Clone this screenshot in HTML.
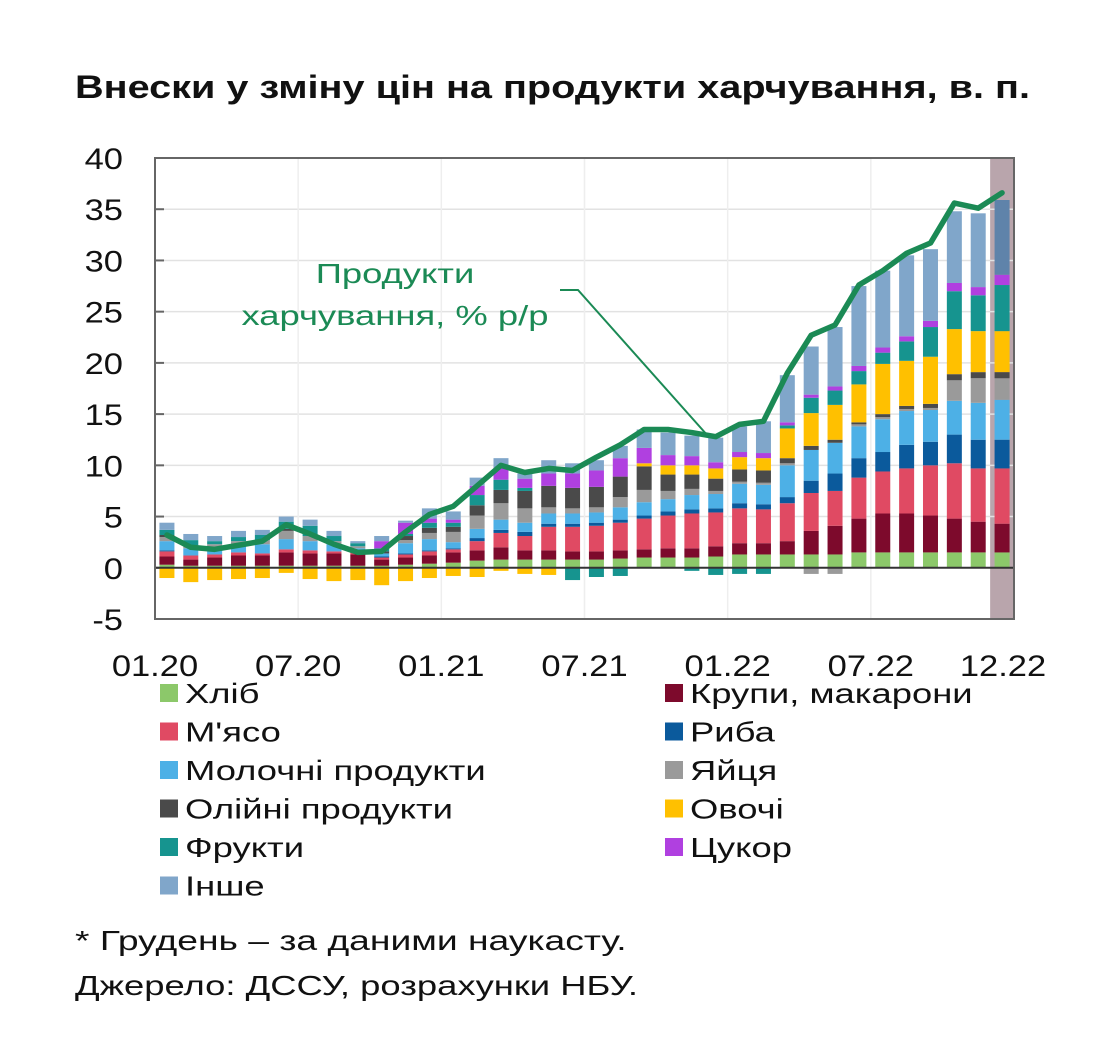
<!DOCTYPE html>
<html><head><meta charset="utf-8">
<style>
body{margin:0;background:#fff;width:1098px;height:1046px;overflow:hidden;font-family:"Liberation Sans",sans-serif}
svg{position:absolute;left:0;top:0}
text{font-family:"Liberation Sans","DejaVu Sans",sans-serif}
</style></head><body>
<svg id="chart" width="1098" height="1046"></svg>
<script>
const months=["01.20","02.20","03.20","04.20","05.20","06.20","07.20","08.20","09.20","10.20","11.20","12.20","01.21","02.21","03.21","04.21","05.21","06.21","07.21","08.21","09.21","10.21","11.21","12.21","01.22","02.22","03.22","04.22","05.22","06.22","07.22","08.22","09.22","10.22","11.22","12.22"];
const xTickLabels=["01.20","07.20","01.21","07.21","01.22","07.22","12.22"];
const xTickIndex=[0,6,12,18,24,30,35];
const yTicks=[-5,0,5,10,15,20,25,30,35,40];
const hlib=[0.3,0.2,0.2,0.2,0.2,0.2,0.2,0.2,0.2,0.2,0.3,0.4,0.5,0.7,0.8,0.8,0.8,0.8,0.8,0.9,1.0,1.0,1.0,1.1,1.3,1.3,1.3,1.3,1.3,1.5,1.5,1.5,1.5,1.5,1.5,1.5];
const krupy=[0.8,0.6,0.8,1.0,1.0,1.3,1.2,1.2,1.1,0.6,0.7,0.8,1.0,1.0,1.2,0.9,0.9,0.8,0.8,0.8,0.8,0.9,0.9,1.0,1.1,1.1,1.3,2.3,2.8,3.3,3.8,3.8,3.6,3.3,3.0,2.8];
const myaso=[0.5,0.4,0.3,0.3,0.2,0.3,0.3,0.2,0.2,0.2,0.3,0.4,0.3,0.9,1.4,1.4,2.3,2.4,2.5,2.7,3.0,3.2,3.4,3.3,3.4,3.3,3.7,3.7,3.4,4.0,4.1,4.4,4.9,5.4,5.2,5.4];
const ryba=[0.1,0,0,0,0,0,0,0,0,0.1,0.1,0.1,0.1,0.3,0.3,0.4,0.3,0.3,0.3,0.3,0.3,0.4,0.4,0.4,0.5,0.5,0.6,1.2,1.7,1.9,1.9,2.3,2.3,2.8,2.8,2.8];
const molochni=[0.9,0.7,0.7,0.8,0.9,1.0,0.9,0.7,0.4,0.3,1.0,1.1,0.6,0.9,1.0,0.9,1.0,1.0,1.0,1.2,1.3,1.2,1.4,1.4,1.9,1.9,3.1,3.0,3.0,3.1,3.2,3.3,3.1,3.3,3.6,3.9];
const yaytsa=[0.4,0.3,0.3,0.3,0.4,0.8,0.5,0.3,0.2,0,0.3,0.6,1.0,1.3,1.6,1.4,0.6,0.5,0.5,1.0,1.2,0.8,0.6,0.3,0.2,0.2,0.2,-0.6,-0.6,0.2,0.2,0.2,0.2,2.0,2.4,2.1];
const oliyni=[0.2,0,0,0,0,0.2,0,0,0,0.2,0.4,0.5,0.5,1.0,1.3,1.7,2.1,2.0,2.0,2.0,2.3,1.6,1.4,1.2,1.2,1.2,0.5,0.4,0.3,0.2,0.3,0.3,0.4,0.6,0.6,0.6];
const ovochi=[-1.0,-1.4,-1.2,-1.1,-1.0,-0.5,-1.1,-1.3,-1.2,-1.7,-1.3,-1.0,-0.8,-0.9,-0.3,-0.6,-0.7,0,0,0,0.3,0.9,0.9,1.0,1.2,1.2,2.9,3.2,3.4,3.7,4.9,4.4,4.6,4.4,4.0,4.0];
const frukty=[0.5,0.5,0.3,0.4,0.5,0.7,1.0,0.5,0.3,0.3,0.2,0.5,0.4,1.0,1.0,0.3,0,-1.2,-0.9,-0.8,0,0,-0.3,-0.7,-0.6,-0.6,0.3,1.5,1.4,1.3,1.1,1.9,2.9,3.7,3.5,4.5];
const tsukor=[0,0,0,0,0,0,0,0,0,0.7,1.1,0.4,0.3,0.9,1.2,0.9,1.2,1.4,1.6,1.8,1.5,1.0,0.9,0.6,0.5,0.5,0.3,0.3,0.4,0.5,0.5,0.5,0.6,0.8,0.8,1.0];
const inshe=[0.7,0.6,0.5,0.6,0.5,0.5,0.6,0.5,0.2,0.5,0.2,1.0,0.8,0.8,0.9,0.5,1.3,1.0,1.0,1.2,1.8,2.2,2.0,2.4,2.5,3.1,4.6,4.7,5.8,7.8,7.5,7.9,7.0,7.0,7.2,7.3];
const foodInflation=[3.2,2.0,1.8,2.2,2.6,4.2,3.3,2.3,1.5,1.6,3.5,5.2,6.0,8.0,10.0,9.3,9.7,9.5,10.8,12.0,13.5,13.5,13.2,12.8,14.0,14.3,19.0,22.7,23.7,27.6,29.0,30.7,31.7,35.6,35.1,36.6];

const series=[
 {name:"Хліб",key:"bread",data:hlib,color:"#8cc86a"},
 {name:"Крупи, макарони",key:"cereals-pasta",data:krupy,color:"#7d0a2c"},
 {name:"М'ясо",key:"meat",data:myaso,color:"#e04a63"},
 {name:"Риба",key:"fish",data:ryba,color:"#0b5a9c"},
 {name:"Молочні продукти",key:"dairy",data:molochni,color:"#4db0e6"},
 {name:"Яйця",key:"eggs",data:yaytsa,color:"#9a9a9a"},
 {name:"Олійні продукти",key:"oil-products",data:oliyni,color:"#4a4a4a"},
 {name:"Овочі",key:"vegetables",data:ovochi,color:"#ffc000"},
 {name:"Фрукти",key:"fruits",data:frukty,color:"#16948f"},
 {name:"Цукор",key:"sugar",data:tsukor,color:"#b040e0"},
 {name:"Інше",key:"other",data:inshe,color:"#80a6ca"}
];
const NS="http://www.w3.org/2000/svg";
const svg=document.getElementById('chart');
function mk(tag,attrs,parent){const e=document.createElementNS(NS,tag);for(const k in attrs)e.setAttribute(k,attrs[k]);(parent||svg).appendChild(e);return e;}
function stretch(el,x,s){el.setAttribute('transform','translate('+x+',0) scale('+s+',1) translate('+(-x)+',0)');}
const PL=155,PR=1014,PT=158,PB=619,YMIN=-5,YMAX=40;
const slot=(PR-PL)/months.length;
function y(v){return PB-(v-YMIN)/(YMAX-YMIN)*(PB-PT);}
function xc(i){return PL+slot*(i+0.5);}

// title
let t=mk('text',{x:75,y:98,'font-size':32,'font-weight':'bold',fill:'#111',textLength:955,lengthAdjust:'spacingAndGlyphs'});
t.textContent="Внески у зміну цін на продукти харчування, в. п.";



// shaded nowcast area
let sh=mk('rect',{x:PL+slot*35,y:PT,width:PR-(PL+slot*35),height:PB-PT,fill:'#b9a5ac'});



// grid
yTicks.forEach(v=>{
 if(v!==0&&v!==YMIN&&v!==YMAX){let g=mk('line',{x1:PL,x2:PR,y1:y(v),y2:y(v),stroke:'#e2e2e2','stroke-width':1.5});
 
 }
 let tk=mk('line',{x1:PL,x2:PL+9,y1:y(v),y2:y(v),stroke:'#666','stroke-width':2});
 
 
 let l=mk('text',{x:123,y:y(v)+11,'font-size':30,'text-anchor':'end',fill:'#111'});
 l.textContent=v;
 stretch(l,123,1.15);
 
 
});
xTickIndex.forEach((idx,k)=>{
 const xx=PL+slot*idx;
 if(idx>0&&idx<35){let g=mk('line',{x1:xx,x2:xx,y1:PT,y2:PB,stroke:'#eeeeee','stroke-width':1.5});
 
 }
 const lx=idx===35?1003:xx;
 let l=mk('text',{x:lx,y:676,'font-size':30,'text-anchor':'middle',fill:'#111'});
 l.textContent=xTickLabels[k];
 stretch(l,lx,1.15);
 
 
});

// bars
const bw=15;
months.forEach((m,i)=>{
 let pos=0,neg=0;
 series.forEach(s=>{
  const v=s.data[i]; if(!v)return;
  let y0,y1;
  if(v>0){y0=pos;y1=pos+v;pos=y1;}else{y0=neg+v;y1=neg;neg=y0;}
  let color=s.color;
  if(i===35&&s.key==='other')color='#5f83aa';
  let r=mk('rect',{x:xc(i)-bw/2,y:y(y1),width:bw,height:Math.max(0,y(y0)-y(y1)),fill:color});
  
  
 });
});

// zero line and frame
let z=mk('line',{x1:PL,x2:PR,y1:y(0),y2:y(0),stroke:'#333','stroke-width':2});


let fr=mk('rect',{x:PL,y:PT,width:PR-PL,height:PB-PT,fill:'none',stroke:'#666','stroke-width':2});



// line
let pts=foodInflation.map((v,i)=>xc(i)+','+y(v)).join(' ');
let pl=mk('polyline',{points:pts,fill:'none',stroke:'#1b8a55','stroke-width':5.5,'stroke-linejoin':'round','stroke-linecap':'round'});



// annotation
let a1=mk('text',{x:395,y:283,'font-size':28,'text-anchor':'middle',fill:'#1b8a55'});
a1.textContent="Продукти";
stretch(a1,395,1.3);


let a2=mk('text',{x:395,y:325,'font-size':28,'text-anchor':'middle',fill:'#1b8a55'});
a2.textContent="харчування, % р/р";
stretch(a2,395,1.3);


let al=mk('polyline',{points:'560,290 578,290 708,436',fill:'none',stroke:'#1b8a55','stroke-width':2});



// legend
const legendOrder=[[0,1],[2,3],[4,5],[6,7],[8,9],[10]];
legendOrder.forEach((row,r)=>{
 row.forEach((si,c)=>{
  const s=series[si];
  const lx=c===0?160:665, ly=693+r*38.5;
  let g=mk('g',{});
  
  
  mk('rect',{x:lx,y:ly-9,width:18,height:18,fill:s.color},g);
  let tx=mk('text',{x:lx+25,y:ly+10,'font-size':28,fill:'#111'},g);
  tx.textContent=s.name;
  stretch(tx,lx+25,1.3);
 });
});

// footnotes
let f1=mk('text',{x:75,y:950,'font-size':28,fill:'#111'});
f1.textContent="* Грудень – за даними наукасту.";
stretch(f1,75,1.33);


let f2=mk('text',{x:75,y:995,'font-size':28,fill:'#111'});
f2.textContent="Джерело: ДССУ, розрахунки НБУ.";
stretch(f2,75,1.3);


</script>
</body></html>
